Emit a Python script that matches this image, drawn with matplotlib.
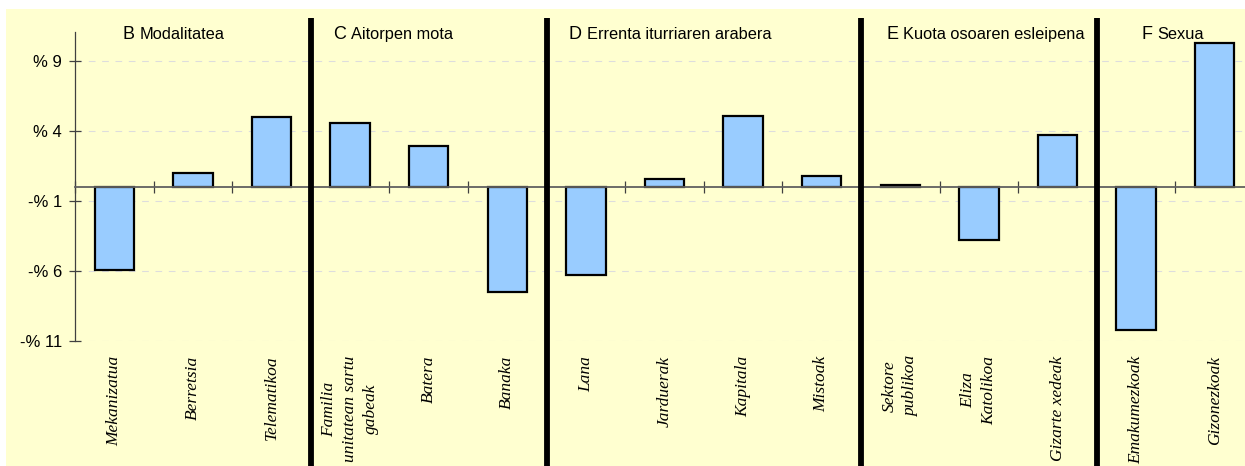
import matplotlib
matplotlib.use("Agg")
import matplotlib.pyplot as plt
from matplotlib.patches import Rectangle
from matplotlib.transforms import offset_copy

# groups: letter, title, labels, values
group_letters = ["B", "C", "D", "E", "F"]
group_titles = ["Modalitatea", "Aitorpen mota", "Errenta iturriaren arabera",
                "Kuota osoaren esleipena", "Sexua"]
group_sizes = [3, 3, 4, 3, 2]
title_x = [0.6, 3.28, 6.28, 10.32, 13.57]

labels = ["Mekanizatua", "Berretsia", "Telematikoa",
          "Familia\nunitatean sartu\ngabeak", "Batera", "Banaka",
          "Lana", "Jarduerak", "Kapitala", "Mistoak",
          "Sektore\npublikoa", "Eliza\nKatolikoa", "Gizarte xedeak",
          "Emakumezkoak", "Gizonezkoak"]
values = [-5.9, 1.0, 5.0,
          4.6, 2.95, -7.5,
          -6.3, 0.55, 5.1, 0.75,
          0.12, -3.8, 3.7,
          -10.2, 10.3]

yticks = [-11, -6, -1, 4, 9]
ytick_labels = ["-% 11", "-% 6", "-% 1", "% 4", "% 9"]

W, H = 1245, 466
fig = plt.figure(figsize=(W / 100, H / 100), dpi=100, facecolor="white")
fig.patches.append(Rectangle((6 / W, 0), 1 - 6 / W + 0.01, (H - 9) / H,
                             transform=fig.transFigure, facecolor="#FFFFD0",
                             edgecolor="none", zorder=-10))

slot = 78.6
ax = fig.add_axes([75 / W, (H - 341) / H, 15 * slot / W, (341 - 32) / H])
ax.set_zorder(1)
ax.patch.set_visible(False)
ax.set_xlim(0, 15)
ax.set_ylim(-11, 11.07)

xs = [i + 0.5 for i in range(len(values))]
ax.bar(xs, values, width=0.5, color="#99CCFF", edgecolor="black",
       linewidth=1.6, zorder=3)

# grid
for y in yticks:
    ax.axhline(y, color="#DDDDDD", linestyle=(0, (6, 6)), linewidth=0.8, zorder=1)

ax.spines["top"].set_visible(False)
ax.spines["right"].set_visible(False)
ax.spines["left"].set_color("#404040")
ax.spines["left"].set_linewidth(0.9)
ax.spines["bottom"].set_position(("data", 0))
ax.spines["bottom"].set_color("#606060")
ax.spines["bottom"].set_linewidth(1.3)
ax.spines["bottom"].set_zorder(4)

ax.set_yticks(yticks)
ax.set_yticklabels(ytick_labels, fontsize=12, family="Liberation Sans")
ax.tick_params(axis="y", direction="inout", length=9, width=0.9, color="#404040", pad=5)
ax.set_xticks(range(16))
ax.set_xticklabels([])
ax.tick_params(axis="x", direction="inout", length=9, width=0.9, color="#404040")

fig.canvas.draw()
renderer = fig.canvas.get_renderer()

# category labels (each line drawn on its own so the lines are centred)
lab_style = dict(rotation=90, fontsize=12.5, style="italic",
                 family="Liberation Serif", clip_on=False)
line_gap = 21
for x, lab in zip(xs, labels):
    lines = lab.split("\n")
    lengths = []
    for ln in lines:
        tmp = ax.text(0, 0, ln, **lab_style)
        lengths.append(tmp.get_window_extent(renderer).height)
        tmp.remove()
    half = max(lengths) / 2
    n = len(lines)
    for i, ln in enumerate(lines):
        dx = (i - (n - 1) / 2) * line_gap
        tr = offset_copy(ax.transData, fig=fig, x=dx, y=-half, units="dots")
        ax.text(x, -12.05, ln, ha="center", va="center", transform=tr, **lab_style)

# separators between groups
pos = 0
for n in group_sizes[:-1]:
    pos += n
    ax.plot([pos, pos], [12.07, -20], color="black", linewidth=4.2,
            clip_on=False, zorder=5, solid_capstyle="butt")

# group titles
for x, letter, title in zip(title_x, group_letters, group_titles):
    t = ax.text(x, 10.57, letter, fontsize=13, family="Liberation Sans",
                va="baseline", ha="left")
    w = t.get_window_extent(renderer).width
    tr = offset_copy(ax.transData, fig=fig, x=w + 5, y=0, units="dots")
    ax.text(x, 10.57, title, fontsize=11.8, family="Liberation Sans",
            va="baseline", ha="left", transform=tr)

fig.savefig("out.png", dpi=100, facecolor="white")
